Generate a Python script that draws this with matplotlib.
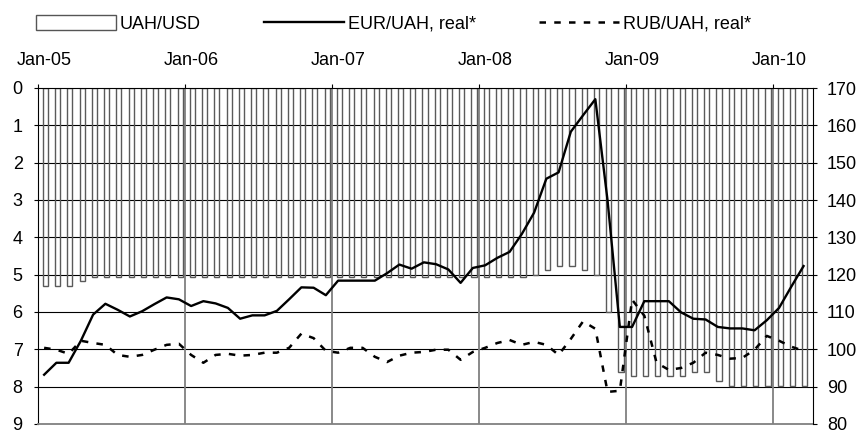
import numpy as np
import matplotlib
matplotlib.use('Agg')
import matplotlib.pyplot as plt
from matplotlib.patches import Patch
from matplotlib.lines import Line2D

plt.rcParams['font.family'] = ['Liberation Sans', 'DejaVu Sans']
plt.rcParams['font.size'] = 13

# monthly, Jan-05 .. Mar-10
year_labels = ['Jan-05', 'Jan-06', 'Jan-07', 'Jan-08', 'Jan-09', 'Jan-10']

# UAH/USD (left axis, inverted)
uah_usd = [5.31, 5.31, 5.31, 5.17, 5.05, 5.05, 5.05, 5.05, 5.05, 5.05, 5.05, 5.05,
           5.05, 5.05, 5.05, 5.05, 5.05, 5.05, 5.05, 5.05, 5.05, 5.05, 5.05, 5.05,
           5.05, 5.05, 5.05, 5.05, 5.05, 5.05, 5.05, 5.05, 5.05, 5.05, 5.05, 5.05,
           5.05, 5.05, 5.05, 5.05, 5.00, 4.87, 4.77, 4.77, 4.87, 5.00, 6.00, 7.62,
           7.72, 7.72, 7.72, 7.72, 7.72, 7.60, 7.60, 7.85, 7.99, 7.99, 7.99, 7.99,
           7.99, 7.99, 7.99]

# EUR/UAH, real* (right axis)
eur_uah = [93.2, 96.4, 96.4, 102.3, 109.3, 112.2, 110.6, 108.8, 110.2, 112.1, 113.9, 113.4,
           111.6, 112.9, 112.3, 111.1, 108.2, 109.1, 109.1, 110.3, 113.4, 116.6, 116.5, 114.5,
           118.4, 118.4, 118.4, 118.4, 120.4, 122.7, 121.6, 123.3, 122.8, 121.4, 117.8, 121.8,
           122.5, 124.5, 126.1, 130.9, 136.6, 145.7, 147.4, 158.3, 162.7, 167.0, 139.8, 106.0,
           106.0, 112.9, 112.9, 112.9, 109.9, 108.2, 108.0, 106.0, 105.6, 105.6, 105.1, 107.8,
           111.1, 116.8, 122.3]

# RUB/UAH, real* (right axis)
rub_uah = [100.4, 99.9, 98.8, 102.3, 101.7, 101.2, 98.5, 98.0, 98.5, 99.9, 101.2, 101.5,
           98.5, 96.4, 98.5, 98.8, 98.3, 98.5, 99.1, 99.1, 100.4, 104.2, 103.0, 99.6,
           99.1, 100.4, 100.4, 98.0, 96.6, 98.3, 99.1, 99.3, 99.9, 99.9, 97.2, 99.3,
           100.4, 101.7, 102.5, 101.2, 102.0, 101.2, 98.5, 102.8, 107.5, 105.5, 88.6, 88.9,
           113.3, 109.0, 96.4, 94.5, 95.0, 96.4, 99.1, 98.5, 97.5, 97.7, 99.9, 103.6,
           102.3, 100.7, 99.6]

x = np.arange(len(uah_usd))

fig = plt.figure(figsize=(8.64, 4.34), dpi=100)
ax = fig.add_axes([38 / 864, 1 - 424 / 434, 775 / 864, 336 / 434])

# grid
for v in range(1, 9):
    ax.axhline(v, color='black', lw=0.8, zorder=0.5)
for b in [11.5, 23.5, 35.5, 47.5, 59.5]:
    ax.axvline(b, color='#808080', lw=1.3, zorder=0.6)

ax.bar(x + 0.1, uah_usd, width=0.42, fill=False, edgecolor='#5a5a5a', lw=1.0, zorder=1)
ax.set_xlim(-0.5, 62.77)
ax.set_ylim(9, 0)
ax.set_yticks(range(10))
ax.tick_params(axis='y', length=3, direction='out', pad=8)

ax.xaxis.tick_top()
ax.set_xticks([-0.5, 11.5, 23.5, 35.5, 47.5, 59.5])
ax.set_xticklabels([])
ax.set_xticks(np.arange(0, 61, 12), minor=True)
ax.set_xticklabels(year_labels, minor=True)
ax.tick_params(axis='x', which='major', length=3, direction='out', top=True, bottom=False)
ax.tick_params(axis='x', which='minor', length=0, pad=13.5, labeltop=True,
               labelbottom=False, top=True, bottom=False)
ax.spines['right'].set_visible(False)
ax.spines['bottom'].set_color('#808080')
ax.spines['bottom'].set_linewidth(1.3)

ax2 = ax.twinx()
ax2.plot(x, eur_uah, color='black', lw=1.7, zorder=3)
ax2.plot(x, rub_uah, color='black', lw=1.8, linestyle=(0, (2.6, 3.3)), zorder=3)
ax2.set_ylim(80, 170)
ax2.set_yticks(range(80, 171, 10))
ax2.tick_params(axis='y', length=3, direction='out', pad=7)
for s in ['left', 'top', 'bottom']:
    ax2.spines[s].set_visible(False)

handles = [Patch(facecolor='white', edgecolor='#555555', lw=1.0),
           Line2D([], [], color='black', lw=1.7),
           Line2D([], [], color='black', lw=1.8, linestyle=(0, (2.6, 3.3)))]
labels = ['UAH/USD', 'EUR/UAH, real*', 'RUB/UAH, real*']
fig.legend(handles, labels, loc='center left', bbox_to_anchor=(36 / 864, 1 - 24 / 434),
           ncol=3, frameon=False, handlelength=4.43, handleheight=0.85,
           handletextpad=0.22, columnspacing=3.5, borderpad=0, borderaxespad=0)

fig.savefig('out.png', dpi=100)
